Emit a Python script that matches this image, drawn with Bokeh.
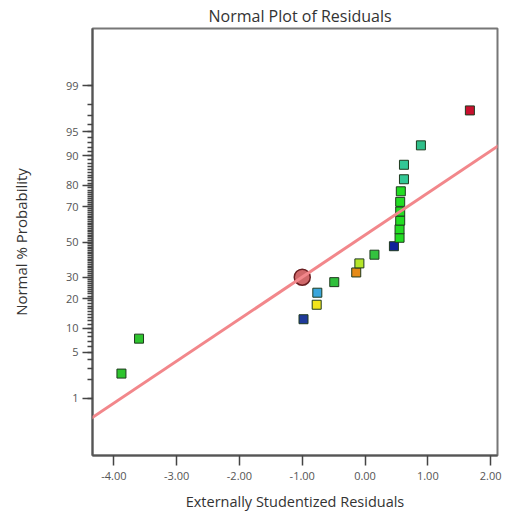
from statistics import NormalDist
from bokeh.plotting import figure
from bokeh.models import Range1d, FixedTicker, CustomJSTickFormatter, NumeralTickFormatter, Slope, ColumnDataSource
from bokeh.embed import file_html
from bokeh.resources import INLINE

# ---- data ----
residuals = [-3.88, -3.60, -0.98, -0.77, -0.76, -0.49, -0.14, -0.09, 0.15, 0.46,
             0.55, 0.55, 0.56, 0.56, 0.56, 0.57, 0.62, 0.62, 0.89, 1.67]
percent = [2.5, 7.5, 12.5, 17.5, 22.5, 27.5, 32.5, 37.5, 42.5, 47.5,
           52.5, 57.5, 62.5, 67.5, 72.5, 77.5, 82.5, 87.5, 92.5, 97.5]
point_colors = ["#2ec42e", "#2ec42e", "#1f3a9a", "#f2e41c", "#3aa6dc", "#2fbf3b",
                "#e58a17", "#b5e62a", "#33c23f", "#10209a",
                "#22dd22", "#22dd22", "#22dd22", "#22dd22", "#22dd22", "#22dd22",
                "#33c896", "#33c896", "#2fbf8a", "#c8102e"]
selected_x = [-1.0]
selected_p = [30.0]
line_gradient = 0.626
line_intercept = 0.104

y_major = [1, 5, 10, 20, 30, 50, 70, 80, 90, 95, 99]
y_minor = list(range(1, 100))
x_ticks = [-4, -3, -2, -1, 0, 1, 2]

nd = NormalDist()
def probit(p):
    return nd.inv_cdf(p / 100.0)

src = ColumnDataSource(dict(x=residuals, z=[probit(v) for v in percent], c=point_colors))

FONT = "Open Sans"
p = figure(width=502, height=513, output_backend="svg", toolbar_location=None,
           x_range=Range1d(-4.341, 2.11), y_range=Range1d(-3.18, 3.18),
           min_border_left=92, min_border_right=5, min_border_top=28, min_border_bottom=57)
p.title.text = "Normal Plot of Residuals"
p.title.align = "left"
p.title.offset = 116
p.title.text_font = FONT
p.title.text_font_size = "16px"
p.title.text_font_style = "normal"
p.title.text_color = "#333333"
p.title.standoff = 3

p.grid.visible = False
p.background_fill_color = "white"
p.border_fill_color = "white"
p.outline_line_color = "#777777"
p.outline_line_width = 2

# y axis (probit)
ya = p.yaxis[0]
ya.ticker = FixedTicker(ticks=[probit(v) for v in y_major], minor_ticks=[probit(v) for v in y_minor])
ya.formatter = CustomJSTickFormatter(args=dict(labels=[str(v) for v in y_major]), code="return labels[index];")
ya.axis_label = "Normal % Probability"
ya.axis_label_text_font = FONT
ya.axis_label_text_font_size = "15px"
ya.axis_label_text_font_style = "normal"
ya.axis_label_text_color = "#333333"
ya.axis_label_standoff = 32
ya.major_label_text_font = FONT
ya.major_label_text_font_size = "11px"
ya.major_label_text_color = "#555555"
ya.major_label_standoff = 4
ya.major_tick_out = 10
ya.major_tick_in = 0
ya.minor_tick_out = 5
ya.minor_tick_in = 0
ya.axis_line_color = "#555555"
ya.axis_line_width = 2
ya.major_tick_line_color = "#444444"
ya.major_tick_line_width = 1.5
ya.minor_tick_line_color = "#444444"
ya.minor_tick_line_width = 1.5

# x axis
xa = p.xaxis[0]
xa.ticker = FixedTicker(ticks=x_ticks)
xa.formatter = NumeralTickFormatter(format="0.00")
xa.axis_label = "Externally Studentized Residuals"
xa.axis_label_text_font = FONT
xa.axis_label_text_font_size = "14.5px"
xa.axis_label_text_font_style = "normal"
xa.axis_label_text_color = "#333333"
xa.axis_label_standoff = 9
xa.major_label_text_font = FONT
xa.major_label_text_font_size = "11px"
xa.major_label_text_color = "#555555"
xa.major_label_standoff = 6
xa.major_tick_out = 10
xa.major_tick_in = 0
xa.minor_tick_line_color = None
xa.axis_line_color = "#555555"
xa.axis_line_width = 2
xa.major_tick_line_color = "#444444"
xa.major_tick_line_width = 1.5

# fit line
p.add_layout(Slope(gradient=line_gradient, y_intercept=line_intercept,
                   line_color="#f2878b", line_width=3))

# points
p.scatter("x", "z", source=src, marker="square", size=9, fill_color="c",
          line_color="#1f3a1f", line_width=1)
p.scatter(selected_x, [probit(v) for v in selected_p], marker="circle", size=16,
          fill_color="#d0686a", line_color="#6b1f22", line_width=1.5)

open("out.html", "w").write(file_html(p, INLINE))
